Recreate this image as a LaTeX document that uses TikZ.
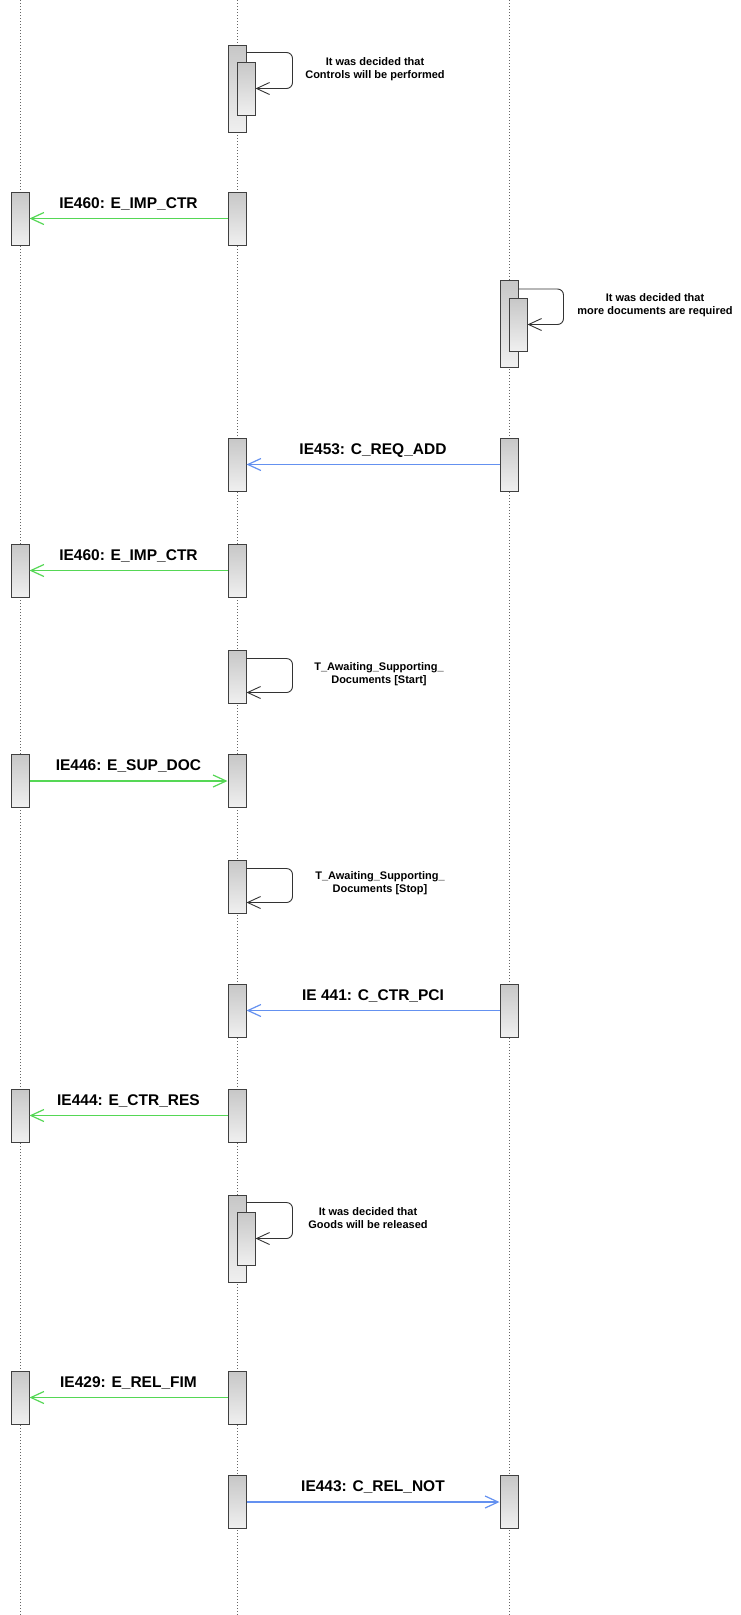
\documentclass[tikz,border=0pt]{standalone}
\usepackage{fontspec}
\setmainfont{Liberation Sans}
\usetikzlibrary{arrows.meta}
\definecolor{msggreen}{RGB}{85,215,85}
\definecolor{msgblue}{RGB}{100,145,240}
\begin{document}
\begin{tikzpicture}[
  x=1pt, y=-1pt,
  lifeline/.style={line width=1pt, black!60, dash pattern=on 1pt off 2pt},
  actbox/.style={draw=black!75, line width=1pt, top color=black!22, bottom color=black!6, minimum width=18pt, minimum height=53pt, inner sep=0pt},
  longbox/.style={actbox, minimum height=87pt},
  msglabel/.style={font=\fontsize{15.5}{18}\selectfont\bfseries, text=black, anchor=base, yshift=10.5pt},
  notelabel/.style={font=\fontsize{11}{13}\selectfont\bfseries, align=center},
  greenmsg/.style={-{Straight Barb[length=13pt,width=12pt]}, line width=1.2pt, msggreen},
  bluemsg/.style={-{Straight Barb[length=13pt,width=12pt]}, line width=1.2pt, msgblue},
  selfloop/.style={-{Straight Barb[length=13pt,width=12pt]}, line width=0.9pt, black!80, rounded corners=6pt}
]
\useasboundingbox (0,0) rectangle (741,1615);
\foreach \n/\x in {A/20,B/237,C/509} {
  \coordinate (\n top) at (\x,0);
  \coordinate (\n bot) at (\x,1615);
  \draw[lifeline] (\n top) -- (\n bot);
}

\node[longbox] (d1) at (237,88.5) {};
\node[actbox] (d1in) at (246,88.5) {};
\draw[selfloop] (d1.north east) ++(0,8) -- ++(46,0) |- (d1in.east);
\node[notelabel] (d1txt) at (375,69) {It was decided that\\Controls will be performed};

\node[actbox] (m1a) at (20,218.5) {};
\node[actbox] (m1b) at (237,218.5) {};
\draw[greenmsg] (m1b.west) -- (m1a.east) node[midway, msglabel] {IE460: E\_IMP\_CTR};

\node[longbox] (d3) at (509,324) {};
\node[actbox] (d3in) at (518,324.5) {};
\draw[selfloop] (d3.north east) ++(0,9) -- ++(45,0) |- (d3in.east);
\node[notelabel] (d3txt) at (655,305) {It was decided that\\more documents are required};

\node[actbox] (m2b) at (237,464.5) {};
\node[actbox] (m2c) at (509,464.5) {};
\draw[bluemsg] (m2c.west) -- (m2b.east) node[midway, msglabel] {IE453: C\_REQ\_ADD};

\node[actbox] (m3a) at (20,570.5) {};
\node[actbox] (m3b) at (237,570.5) {};
\draw[greenmsg] (m3b.west) -- (m3a.east) node[midway, msglabel] {IE460: E\_IMP\_CTR};

\node[actbox] (t1) at (237,676.5) {};
\draw[selfloop] (t1.north east) ++(0,9) -- ++(46,0) |- ([yshift=-16pt]t1.east);
\node[notelabel] (t1txt) at (379,674) {T\_Awaiting\_Supporting\_\\Documents [Start]};

\node[actbox] (m4a) at (20,781) {};
\node[actbox] (m4b) at (237,781) {};
\draw[greenmsg] (m4a.east) -- (m4b.west) node[midway, msglabel] {IE446: E\_SUP\_DOC};

\node[actbox] (t2) at (237,886.5) {};
\draw[selfloop] (t2.north east) ++(0,9) -- ++(46,0) |- ([yshift=-16pt]t2.east);
\node[notelabel] (t2txt) at (380,883.5) {T\_Awaiting\_Supporting\_\\Documents [Stop]};

\node[actbox] (m5b) at (237,1010.5) {};
\node[actbox] (m5c) at (509,1010.5) {};
\draw[bluemsg] (m5c.west) -- (m5b.east) node[midway, msglabel] {IE 441: C\_CTR\_PCI};

\node[actbox] (m6a) at (20,1115.5) {};
\node[actbox] (m6b) at (237,1115.5) {};
\draw[greenmsg] (m6b.west) -- (m6a.east) node[midway, msglabel] {IE444: E\_CTR\_RES};

\node[longbox] (d2) at (237,1238.5) {};
\node[actbox] (d2in) at (246,1238.5) {};
\draw[selfloop] (d2.north east) ++(0,8) -- ++(46,0) |- (d2in.east);
\node[notelabel] (d2txt) at (368,1218) {It was decided that\\Goods will be released};

\node[actbox] (m7a) at (20,1397.5) {};
\node[actbox] (m7b) at (237,1397.5) {};
\draw[greenmsg] (m7b.west) -- (m7a.east) node[midway, msglabel] {IE429: E\_REL\_FIM};

\node[actbox] (m8b) at (237,1502) {};
\node[actbox] (m8c) at (509,1502) {};
\draw[bluemsg] (m8b.east) -- (m8c.west) node[midway, msglabel] {IE443: C\_REL\_NOT};
\end{tikzpicture}
\end{document}
